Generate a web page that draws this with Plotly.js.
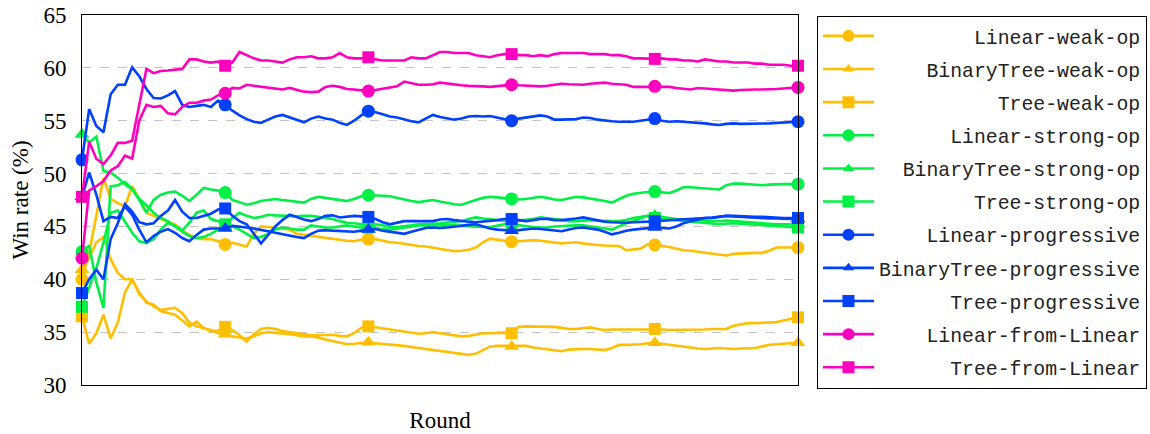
<!DOCTYPE html>
<html><head><meta charset="utf-8">
<script src="https://cdn.plot.ly/plotly-3.0.1.min.js"></script>
<style>html,body{margin:0;padding:0;background:#fff;}#chart{width:1150px;height:434px;}</style>
</head><body><div id="chart"></div>
<script>
// ---- data (win rate %, one value per round 0..100) ----
const seriesNames = ['Linear-weak-op','BinaryTree-weak-op','Tree-weak-op','Linear-strong-op','BinaryTree-strong-op','Tree-strong-op','Linear-progressive','BinaryTree-progressive','Tree-progressive','Linear-from-Linear','Tree-from-Linear'];
const yTicks = [30,35,40,45,50,55,60,65];

const linearWeakOp = [40.0,42.5,46.0,49.6,47.6,47.2,46.9,48.8,47.6,46.3,46.0,45.7,45.4,45.2,44.6,44.2,43.9,43.8,43.8,43.6,43.3,
43.45,43.3,43.1,44.3,45.0,44.95,44.9,44.8,44.7,44.3,44.2,44.1,44.0,43.9,43.85,43.75,43.65,43.6,43.75,43.8,
43.8,43.65,43.5,43.45,43.35,43.2,43.15,43.1,43.0,42.9,42.75,42.65,42.7,42.8,43.0,43.5,43.85,43.75,43.65,43.55,
43.6,43.65,43.7,43.65,43.55,43.45,43.4,43.45,43.5,43.4,43.3,43.25,43.2,43.2,43.15,42.75,42.85,42.9,43.3,43.25,
43.15,43.05,42.9,42.75,42.7,42.6,42.55,42.45,42.35,42.25,42.4,42.45,42.45,42.5,42.5,42.7,43.0,43.0,43.0,43.0];

const binaryTreeWeakOp = [40.9,42.0,43.5,44.0,41.9,40.6,40.0,40.0,38.6,37.9,37.45,37.1,37.2,37.3,36.8,35.9,35.55,35.4,35.2,34.9,34.8,
34.6,34.5,34.4,34.6,34.9,35.0,34.95,34.9,34.8,34.7,34.6,34.6,34.5,34.3,34.15,34.0,33.85,33.9,34.0,34.05,
33.95,33.9,33.85,33.8,33.7,33.6,33.5,33.4,33.3,33.2,33.1,33.0,32.95,32.85,32.95,33.3,33.65,33.7,33.7,33.65,
33.7,33.7,33.55,33.45,33.35,33.3,33.2,33.35,33.4,33.4,33.4,33.35,33.3,33.5,33.8,33.8,33.8,33.85,33.95,34.0,
33.9,33.8,33.75,33.65,33.55,33.45,33.4,33.45,33.5,33.45,33.4,33.45,33.5,33.5,33.65,33.8,33.85,33.9,33.95,34.0];

const treeWeakOp = [36.5,33.9,34.9,36.65,34.4,35.9,38.75,40.0,38.75,37.8,37.6,37.0,36.8,36.65,36.1,35.55,36.0,35.4,35.1,35.15,35.5,
35.2,34.7,34.1,34.8,35.3,35.4,35.3,35.1,35.0,34.85,34.75,34.7,34.7,34.7,34.75,34.65,34.6,34.9,35.4,35.55,
35.45,35.4,35.3,35.2,35.05,34.95,34.85,34.9,35.0,34.9,34.8,34.65,34.6,34.65,34.75,34.9,34.9,34.95,34.95,34.9,
35.5,35.55,35.55,35.5,35.55,35.5,35.4,35.3,35.3,35.4,35.45,35.3,35.2,35.25,35.25,35.3,35.3,35.3,35.3,35.3,
35.25,35.2,35.2,35.2,35.2,35.25,35.25,35.3,35.3,35.3,35.6,35.75,35.85,35.85,35.9,35.9,35.95,36.1,36.25,36.4];

const linearStrongOp = [42.6,43.2,39.7,37.3,48.8,48.9,49.2,48.6,47.5,46.3,47.5,48.0,48.2,48.3,47.9,47.4,48.0,48.65,48.5,48.4,48.2,
47.5,47.3,47.05,47.2,47.4,47.5,47.6,47.5,47.4,47.3,47.25,47.6,47.8,47.7,47.6,47.5,47.4,47.6,47.85,47.95,
47.95,47.9,47.85,47.7,47.5,47.4,47.3,47.4,47.5,47.35,47.2,47.1,47.05,47.3,47.5,47.7,47.8,47.75,47.7,47.6,
47.55,47.6,47.7,47.8,47.7,47.55,47.5,47.65,47.8,47.75,47.65,47.5,47.4,47.25,47.6,47.9,48.1,48.2,48.25,48.3,
48.25,48.15,48.4,48.7,48.7,48.65,48.6,48.55,48.5,48.9,49.05,49.05,49.0,48.95,48.9,48.95,49.0,49.0,49.0,49.0];

const binaryTreeStrongOp = [53.7,52.95,53.5,50.25,50.1,49.6,49.0,48.5,47.6,47.0,46.3,45.8,45.5,45.0,44.5,44.1,43.9,44.0,44.3,44.7,45.0,
45.8,46.3,46.0,45.8,45.9,46.1,46.05,46.0,45.95,45.95,46.0,46.0,45.9,45.8,45.7,45.5,45.35,45.3,45.2,45.2,
45.2,45.1,44.95,44.95,45.0,45.1,45.2,45.2,45.25,45.3,45.35,45.4,45.5,45.7,45.85,45.75,45.65,45.6,45.55,45.5,
45.55,45.6,45.7,45.85,45.8,45.7,45.6,45.5,45.5,45.55,45.6,45.55,45.5,45.5,45.5,45.6,45.8,45.9,46.0,46.0,
45.9,45.75,45.7,45.65,45.6,45.55,45.5,45.5,45.5,45.55,45.5,45.45,45.4,45.35,45.3,45.2,45.2,45.2,45.2,45.2];

const treeStrongOp = [37.4,39.2,41.0,43.5,46.3,46.5,45.4,44.4,43.6,43.45,43.8,44.7,45.35,45.05,44.6,45.35,46.3,46.5,45.7,45.5,45.2,
45.0,44.7,44.3,43.9,44.0,44.3,44.7,44.9,44.8,44.7,44.7,45.1,45.0,44.9,44.9,45.0,45.1,45.0,44.9,44.9,
44.8,44.75,44.7,44.8,44.9,45.0,45.1,45.1,45.1,45.1,45.15,45.1,45.05,45.0,44.95,44.95,44.95,45.1,45.2,45.2,
45.1,45.0,44.95,44.9,44.9,45.0,45.05,45.1,45.1,45.1,45.0,44.9,44.8,44.7,45.0,45.3,45.5,45.75,46.0,45.8,
45.7,45.65,45.6,45.5,45.45,45.4,45.35,45.3,45.2,45.25,45.3,45.25,45.2,45.15,45.1,45.05,45.0,44.95,44.9,44.9];

const linearProgressive = [51.3,56.1,54.5,53.9,57.5,58.4,58.4,60.05,59.2,58.0,57.15,57.1,57.4,57.8,56.5,56.3,56.4,56.5,56.3,56.9,56.5,
55.95,55.5,55.15,54.9,54.8,55.1,55.4,55.55,55.3,55.1,54.85,55.2,55.4,55.2,55.1,54.8,54.6,55.0,55.5,55.9,
55.8,55.6,55.4,55.3,55.1,54.95,54.85,55.2,55.55,55.35,55.2,55.1,55.2,55.4,55.45,55.4,55.45,55.3,55.15,55.0,
55.2,55.3,55.35,55.5,55.4,55.1,55.1,55.1,55.15,55.3,55.25,55.1,55.0,54.95,54.9,54.9,54.9,55.0,55.1,55.2,
55.0,54.9,54.95,54.9,54.85,54.85,54.75,54.65,54.6,54.7,54.75,54.7,54.7,54.75,54.7,54.75,54.8,54.85,54.9,54.9];

const binaryTreeProgressive = [47.8,50.1,48.0,45.5,45.9,45.8,46.9,46.1,44.7,43.5,44.1,44.5,44.75,44.4,43.9,43.6,44.2,44.7,44.8,44.8,44.8,
45.05,45.0,44.9,44.8,44.7,44.55,44.4,44.25,44.1,44.0,43.9,44.3,44.6,44.65,44.6,44.55,44.5,44.5,44.6,44.7,
44.75,44.6,44.5,44.35,44.3,44.5,44.7,44.85,44.9,44.85,44.9,45.0,45.05,45.15,45.2,45.0,44.8,44.7,44.65,44.6,
44.65,44.7,44.8,44.75,44.7,44.6,44.55,44.7,44.85,44.9,44.8,44.7,44.5,44.25,44.4,44.6,44.7,44.75,44.8,44.9,
44.85,44.8,45.0,45.3,45.5,45.65,45.8,45.85,45.9,46.0,45.95,45.9,45.85,45.8,45.8,45.75,45.75,45.7,45.7,45.7];

const treeProgressive = [38.7,40.0,40.9,40.0,43.8,45.3,47.1,46.4,45.4,45.2,45.3,46.0,46.5,47.5,46.4,45.8,45.8,46.0,46.2,46.6,46.7,
46.0,45.5,45.2,44.3,43.4,44.2,45.0,45.6,46.1,45.9,45.65,45.5,45.7,46.0,46.05,45.85,45.9,46.0,45.95,45.9,
45.7,45.4,45.2,45.35,45.5,45.5,45.5,45.5,45.5,45.65,45.7,45.6,45.5,45.45,45.4,45.45,45.5,45.6,45.7,45.7,
45.6,45.5,45.6,45.7,45.7,45.6,45.6,45.65,45.75,45.85,45.7,45.55,45.45,45.4,45.35,45.35,45.4,45.4,45.45,45.5,
45.55,45.6,45.65,45.7,45.75,45.8,45.8,45.8,45.9,46.0,46.0,45.95,45.95,45.9,45.9,45.85,45.85,45.8,45.8,45.8];

const linearFromLinear = [42.0,48.4,48.8,49.3,50.3,50.7,51.7,51.4,55.0,56.5,56.3,56.4,55.7,55.6,56.3,56.7,56.7,56.9,57.0,57.4,57.6,
58.1,58.05,58.4,58.3,58.2,58.1,58.0,57.95,58.1,57.9,57.75,57.7,57.75,58.2,58.3,58.2,58.0,57.95,57.9,57.8,
57.9,58.0,58.1,58.25,58.7,58.55,58.4,58.4,58.45,58.6,58.5,58.4,58.35,58.3,58.3,58.25,58.2,58.25,58.3,58.4,
58.35,58.3,58.25,58.25,58.3,58.4,58.5,58.45,58.4,58.4,58.5,58.55,58.6,58.5,58.45,58.4,58.2,58.2,58.25,58.25,
58.2,58.2,58.1,58.0,57.95,58.1,58.05,58.0,57.9,57.85,57.85,57.9,57.95,57.95,57.95,57.95,58.0,58.05,58.1,58.15];

const treeFromLinear = [47.8,53.0,51.4,50.9,51.7,52.9,52.9,53.1,56.5,59.9,59.5,59.7,59.75,59.8,59.9,60.8,60.8,60.6,60.5,60.6,60.2,
60.5,61.5,61.2,60.9,60.7,60.7,60.6,60.5,60.8,61.0,61.0,61.1,60.9,60.9,61.0,61.4,61.0,60.9,60.9,61.0,
60.8,60.7,60.7,60.7,60.7,61.0,60.9,60.9,61.2,61.5,61.5,61.4,61.4,61.4,61.2,61.1,61.0,61.2,61.3,61.3,
61.2,61.2,61.1,61.2,61.1,61.3,61.4,61.4,61.4,61.4,61.3,61.3,61.3,61.2,61.2,61.1,60.9,60.9,60.85,60.85,
60.9,60.8,60.8,60.7,60.7,60.6,60.8,60.7,60.6,60.6,60.5,60.5,60.5,60.4,60.4,60.3,60.3,60.3,60.2,60.2];

const seriesValues = [linearWeakOp,binaryTreeWeakOp,treeWeakOp,linearStrongOp,binaryTreeStrongOp,treeStrongOp,
  linearProgressive,binaryTreeProgressive,treeProgressive,linearFromLinear,treeFromLinear];

// ---- styles ----
const ORANGE='#FFBF00', GREEN='#00F046', BLUE='#0040FF', MAGENTA='#FF00BF';
const colors = [ORANGE,ORANGE,ORANGE,GREEN,GREEN,GREEN,BLUE,BLUE,BLUE,MAGENTA,MAGENTA];
const symbols = ['circle','triangle-up','square','circle','triangle-up','square','circle','triangle-up','square','circle','square'];
const markSizeOf = {'circle':13,'triangle-up':13,'square':12};
const MARK_EVERY = 20;

const rounds = linearWeakOp.map((_, i) => i);
const maxLen = Math.max(...seriesNames.map(s => s.length));
const padName = s => '\u00A0'.repeat(maxLen - s.length) + s;

const traces = [];
seriesNames.forEach((name, k) => {
  const sizes = rounds.map(r => (r % MARK_EVERY === 0 ? markSizeOf[symbols[k]] : 0));
  traces.push({
    x: rounds, y: seriesValues[k], type: 'scatter', mode: 'lines+markers',
    name: name, legendgroup: 'g' + k, showlegend: false, cliponaxis: false,
    line: {color: colors[k], width: 2.6},
    marker: {color: colors[k], symbol: symbols[k], size: sizes, opacity: 1, line: {width: 0}},
    hoverinfo: 'skip'
  });
});
// legend entries
seriesNames.forEach((name, k) => {
  traces.push({
    x: [null], y: [null], type: 'scatter', mode: 'lines+markers',
    name: padName(name), legendgroup: 'g' + k, showlegend: true,
    line: {color: colors[k], width: 2.6},
    marker: {color: colors[k], symbol: symbols[k], size: symbols[k]==='triangle-up' ? 10 : 12, opacity: 1, line: {width: 0}}
  });
});

const layout = {
  width: 1150, height: 434,
  margin: {l: 82, r: 352, t: 15, b: 49, pad: 0},
  paper_bgcolor: '#fff', plot_bgcolor: '#fff',
  font: {family: 'Liberation Serif, Times New Roman, serif', size: 23, color: '#000'},
  xaxis: {
    range: [0, 100], showgrid: false, zeroline: false, showline: true, mirror: true,
    linecolor: '#000', linewidth: 1, showticklabels: false, ticks: '',
    title: {text: 'Round', font: {size: 23}, standoff: 26}
  },
  yaxis: {
    range: [30, 65], tickmode: 'array', tickvals: yTicks, ticktext: yTicks.map(String),
    showgrid: true, gridcolor: '#c4c4c4', griddash: 'dash', gridwidth: 1,
    zeroline: false, showline: true, mirror: true, linecolor: '#000', linewidth: 1,
    ticks: '', ticklabelstandoff: 10,
    title: {text: 'Win rate (%)', font: {size: 23}, standoff: 8}
  },
  legend: {
    xref: 'container', yref: 'container',
    x: 817 / 1150, xanchor: 'left', y: 1 - 15.5 / 434, yanchor: 'top',
    maxheight: 420,
    bordercolor: '#000', borderwidth: 1, bgcolor: '#fff',
    font: {family: 'Liberation Mono, Courier New, monospace', size: 19.8, color: '#222'},
    itemwidth: 51, tracegroupgap: 4.4, traceorder: 'grouped'
  },
  showlegend: true
};

Plotly.newPlot('chart', traces, layout, {displayModeBar: false, staticPlot: true});
</script>
</body></html>
